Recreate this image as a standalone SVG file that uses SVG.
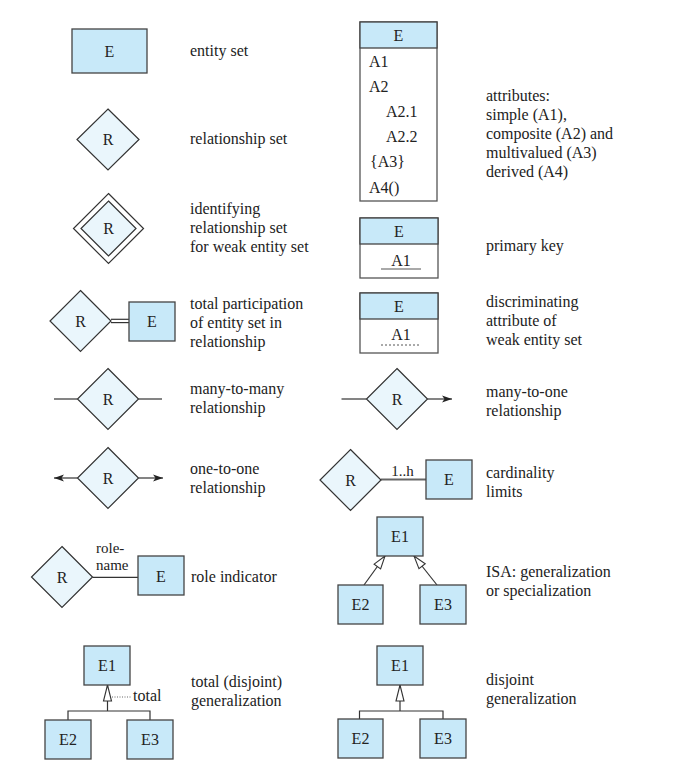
<svg xmlns="http://www.w3.org/2000/svg" width="677" height="776" viewBox="0 0 677 776">
<style>
text{font-family:"Liberation Serif","Times New Roman",serif;font-size:16px;fill:#222}
.c{text-anchor:middle}
.ent{fill:#c8e9f9;stroke:#444;stroke-width:1.3}
.rel{fill:#eaf6fc;stroke:#333;stroke-width:1.2}
.box{fill:#fff;stroke:#555;stroke-width:1.3}
.ln{stroke:#333;stroke-width:1.2;fill:none}
</style>
<defs>
<marker id="arr" markerUnits="userSpaceOnUse" markerWidth="12" markerHeight="8" refX="10" refY="3.5" orient="auto" overflow="visible">
<path d="M0,0 L10,3.5 L0,7 L2.5,3.5 z" fill="#222"/>
</marker>
<marker id="tri" markerUnits="userSpaceOnUse" markerWidth="18" markerHeight="10" refX="16" refY="4" orient="auto" overflow="visible">
<path d="M0,0 L16,4 L0,8 z" fill="#fff" stroke="#333" stroke-width="1.1"/>
</marker>
<marker id="tri2" markerUnits="userSpaceOnUse" markerWidth="14" markerHeight="10" refX="13" refY="4" orient="auto" overflow="visible">
<path d="M0,0 L13,4 L0,8 z" fill="#fff" stroke="#333" stroke-width="1.1"/>
</marker>
</defs>

<g id="connectors">
<line class="ln" x1="111" y1="319.3" x2="129" y2="319.3"/>
<line class="ln" x1="111" y1="322.6" x2="129" y2="322.6"/>
<line class="ln" x1="54" y1="399" x2="77.5" y2="399"/>
<line class="ln" x1="138.5" y1="399" x2="162" y2="399"/>
<line class="ln" x1="77.5" y1="478" x2="54" y2="478" marker-end="url(#arr)"/>
<line class="ln" x1="138.5" y1="478" x2="163" y2="478" marker-end="url(#arr)"/>
<line class="ln" x1="92.5" y1="577.3" x2="138" y2="577.3"/>
<line class="ln" x1="107.5" y1="711" x2="107.5" y2="685" marker-end="url(#tri)"/>
<path class="ln" d="M68,720 V711 H150 V720"/>
<line x1="112" y1="697" x2="132" y2="697" stroke="#666" stroke-width="1" stroke-dasharray="1,1.5"/>
<line class="ln" x1="341.5" y1="399" x2="366.5" y2="399"/>
<line class="ln" x1="427.5" y1="399" x2="452" y2="399" marker-end="url(#arr)"/>
<line x1="381" y1="479.5" x2="426" y2="479.5" stroke="#666" stroke-width="1.8"/>
<line class="ln" x1="364" y1="585" x2="385" y2="556" marker-end="url(#tri2)"/>
<line class="ln" x1="437" y1="585" x2="414" y2="556" marker-end="url(#tri2)"/>
<line class="ln" x1="400" y1="711" x2="400" y2="685" marker-end="url(#tri)"/>
<path class="ln" d="M359.5,719 V711 H443 V719"/>
</g>

<g id="entity-set">
<rect class="ent" x="72" y="29" width="75" height="44"/>
<text class="c" x="109.5" y="56.5">E</text>
<text x="190" y="56">entity set</text>
</g>

<g id="relationship-set">
<polygon class="rel" points="108,109 139,139.5 108,170 77,139.5"/>
<text class="c" x="108" y="145">R</text>
<text x="190" y="144">relationship set</text>
</g>

<g id="identifying-relationship">
<polygon class="rel" points="108.5,193.5 143.5,228.5 108.5,263.5 73.5,228.5" fill="#fff" style="fill:#fff"/>
<polygon class="rel" points="108.5,201 136,228.5 108.5,256 81,228.5"/>
<text class="c" x="108.5" y="234">R</text>
<text x="190" y="214">identifying</text>
<text x="190" y="233">relationship set</text>
<text x="190" y="252">for weak entity set</text>
</g>

<g id="total-participation">
<polygon class="rel" points="80.5,290.5 111,321 80.5,351.5 50,321"/>
<text class="c" x="80.5" y="326.5">R</text>
<rect class="ent" x="129" y="302" width="46" height="39"/>
<text class="c" x="152" y="327">E</text>
<text x="190" y="309">total participation</text>
<text x="190" y="328">of entity set in</text>
<text x="190" y="347">relationship</text>
</g>

<g id="many-to-many">
<polygon class="rel" points="108,368.5 138.5,399 108,429.5 77.5,399"/>
<text class="c" x="108" y="404.5">R</text>
<text x="190" y="394">many-to-many</text>
<text x="190" y="413">relationship</text>
</g>

<g id="one-to-one">
<polygon class="rel" points="108,447.5 138.5,478 108,508.5 77.5,478"/>
<text class="c" x="108" y="483.5">R</text>
<text x="190" y="474">one-to-one</text>
<text x="190" y="493">relationship</text>
</g>

<g id="role-indicator">
<polygon class="rel" points="62,546.5 92.5,577 62,607.5 31.5,577"/>
<text class="c" x="62" y="582.5">R</text>
<rect class="ent" x="138" y="556" width="46" height="39"/>
<text class="c" x="161" y="581.5">E</text>
<text x="96" y="553" style="font-size:15px">role-</text>
<text x="96" y="570" style="font-size:15px">name</text>
<text x="191" y="582">role indicator</text>
</g>

<g id="total-generalization">
<rect class="ent" x="84" y="646" width="46" height="39"/>
<text class="c" x="107" y="671">E1</text>
<rect class="ent" x="45" y="720" width="46" height="39"/>
<text class="c" x="68" y="745">E2</text>
<rect class="ent" x="127" y="720" width="46" height="39"/>
<text class="c" x="150" y="745">E3</text>
<text x="133" y="701">total</text>
<text x="191" y="687">total (disjoint)</text>
<text x="191" y="706">generalization</text>
</g>

<g id="attributes">
<rect class="box" x="360" y="22" width="77" height="179"/>
<rect class="ent" x="360" y="22" width="77" height="26"/>
<text class="c" x="398.5" y="41">E</text>
<text x="369" y="67">A1</text>
<text x="369" y="92">A2</text>
<text x="386" y="117">A2.1</text>
<text x="386" y="142">A2.2</text>
<text x="370" y="167">{A3}</text>
<text x="369" y="193">A4()</text>
<text x="486" y="101">attributes:</text>
<text x="486" y="120">simple (A1),</text>
<text x="486" y="139">composite (A2) and</text>
<text x="486" y="158">multivalued (A3)</text>
<text x="486" y="177">derived (A4)</text>
</g>

<g id="primary-key">
<rect class="box" x="360" y="218" width="78" height="60"/>
<rect class="ent" x="360" y="218" width="78" height="26"/>
<text class="c" x="399" y="237">E</text>
<text class="c" x="401" y="266">A1</text>
<line x1="381" y1="269" x2="421" y2="269" stroke="#555" stroke-width="1.2"/>
<text x="486" y="251">primary key</text>
</g>

<g id="discriminator">
<rect class="box" x="360" y="293" width="78" height="60"/>
<rect class="ent" x="360" y="293" width="78" height="26"/>
<text class="c" x="399" y="312">E</text>
<text class="c" x="401" y="340">A1</text>
<line x1="381" y1="345" x2="421" y2="345" stroke="#555" stroke-width="1" stroke-dasharray="2,2"/>
<text x="486" y="307">discriminating</text>
<text x="486" y="326">attribute of</text>
<text x="486" y="345">weak entity set</text>
</g>

<g id="many-to-one">
<polygon class="rel" points="397,368.5 427.5,399 397,429.5 366.5,399"/>
<text class="c" x="397" y="404.5">R</text>
<text x="486" y="397">many-to-one</text>
<text x="486" y="416">relationship</text>
</g>

<g id="cardinality">
<polygon class="rel" points="350.5,449.5 381,480 350.5,510.5 320,480"/>
<text class="c" x="350.5" y="485.5">R</text>
<rect class="ent" x="426" y="460" width="46" height="39"/>
<text class="c" x="449" y="485">E</text>
<text class="c" x="402.5" y="476" style="font-size:15px">1..h</text>
<text x="486" y="478">cardinality</text>
<text x="486" y="497">limits</text>
</g>

<g id="isa">
<rect class="ent" x="377" y="517" width="46" height="39"/>
<text class="c" x="400" y="542">E1</text>
<rect class="ent" x="338" y="585" width="45" height="39"/>
<text class="c" x="360.5" y="610">E2</text>
<rect class="ent" x="420" y="585" width="46" height="39"/>
<text class="c" x="443" y="610">E3</text>
<text x="486" y="577">ISA: generalization</text>
<text x="486" y="596">or specialization</text>
</g>

<g id="disjoint-generalization">
<rect class="ent" x="377" y="646" width="46" height="39"/>
<text class="c" x="400" y="671">E1</text>
<rect class="ent" x="338" y="719" width="45" height="39"/>
<text class="c" x="360.5" y="744">E2</text>
<rect class="ent" x="420" y="719" width="46" height="39"/>
<text class="c" x="443" y="744">E3</text>
<text x="486" y="685">disjoint</text>
<text x="486" y="704">generalization</text>
</g>
</svg>
